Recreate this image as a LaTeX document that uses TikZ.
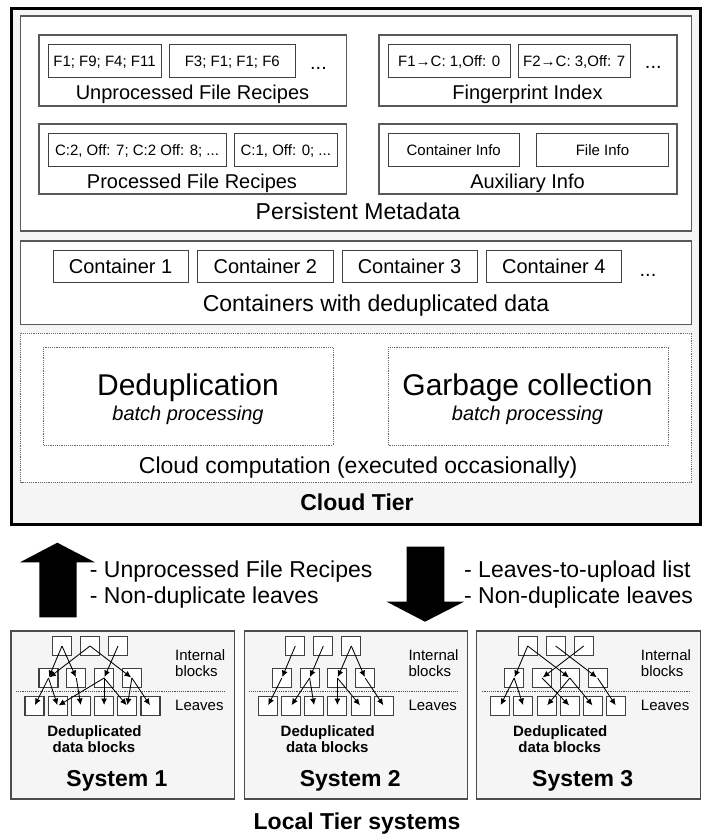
\documentclass[tikz,border=0pt]{standalone}
\usepackage{fontspec}
\setmainfont{Liberation Sans}
\usetikzlibrary{arrows.meta}

\tikzset{
  grpbox/.style={draw=black!65, fill=white, line width=0.45mm},
  itembox/.style={draw=black!75, fill=white, line width=0.35mm, inner sep=0pt, text height=10.7pt, text depth=0pt, font=\fontsize{15}{18}\selectfont},
  contbox/.style={draw=black!75, fill=white, line width=0.35mm, inner sep=0pt, minimum height=32.3pt, text height=14.3pt, text depth=0pt, font=\fontsize{20}{24}\selectfont},
  dotbox/.style={draw=black!60, densely dotted, line width=0.3mm, fill=white},
  sysbox/.style={draw=black!70, fill=black!4, line width=0.4mm},
  blk/.style={draw=black!75, fill=white, line width=0.4mm, minimum size=19pt, inner sep=0pt},
  ptr/.style={-{Latex[length=6.5pt,width=6pt]}, line width=0.3mm, shorten >=1pt},
  txtS/.style={inner sep=0pt, anchor=base, font=\fontsize{15}{18}\selectfont},
  txtM/.style={inner sep=0pt, anchor=base, font=\fontsize{20}{24}\selectfont},
  txtL/.style={inner sep=0pt, anchor=base, font=\fontsize{23}{27}\selectfont},
  txtXL/.style={inner sep=0pt, anchor=base, font=\fontsize{30}{36}\selectfont},
}

% one local system: left x, name prefix, number
\def\localsystem(#1)#2#3{%
  \draw[sysbox] (#1,631) rectangle (#1+223.5,799);
  \draw[black!70, densely dotted, line width=0.3mm] (#1+5,691.5) -- (#1+213,691.5);
  \node[blk] (#2t1) at (#1+51,646) {};
  \node[blk] (#2t2) at (#1+79,646) {};
  \node[blk] (#2t3) at (#1+107,646) {};
  \node[blk] (#2m1) at (#1+37.5,678) {};
  \node[blk] (#2m2) at (#1+65.3,678) {};
  \node[blk] (#2m3) at (#1+93.1,678) {};
  \node[blk] (#2m4) at (#1+120.9,678) {};
  \node[blk] (#2l1) at (#1+23.5,706) {};
  \node[blk] (#2l2) at (#1+46.7,706) {};
  \node[blk] (#2l3) at (#1+69.9,706) {};
  \node[blk] (#2l4) at (#1+93.1,706) {};
  \node[blk] (#2l5) at (#1+116.3,706) {};
  \node[blk] (#2l6) at (#1+139.5,706) {};
  \node[txtS, anchor=base west] (#2int) at (#1+164,660) {Internal};
  \node[txtS, anchor=base west] (#2blk) at (#1+164,676) {blocks};
  \node[txtS, anchor=base west] (#2lvs) at (#1+164,710.7) {Leaves};
  \node[txtS] (#2dd) at (#1+83.5,736.7) {\bfseries Deduplicated};
  \node[txtS] (#2db) at (#1+83,752.7) {\bfseries data blocks};
  \node[txtL] (#2name) at (#1+106,786.7) {\bfseries System #3};
}

\begin{document}
\begin{tikzpicture}[x=1pt, y=-1pt]
  %%%%% START %%%%%
  \useasboundingbox (0,0) rectangle (705,837);

  % cloud tier
  \draw[line width=1mm, fill=black!4] (11.7,8.3) rectangle (700.5,524.5);
  \node[txtL] (cloud) at (357,510) {\bfseries Cloud Tier};

  % persistent metadata
  \draw[grpbox] (20.5,16) rectangle (691.7,231);
  \draw[grpbox] (39,35) rectangle (346.7,106);
  \draw[grpbox] (379,35) rectangle (677,106);
  \draw[grpbox] (39,124) rectangle (346.7,194);
  \draw[grpbox] (379,124) rectangle (677,194);

  \node[itembox, minimum width=113pt, minimum height=33.4pt] (ur1) at (104.5,61) {F1; F9; F4; F11};
  \node[itembox, minimum width=126pt, minimum height=33.4pt] (ur2) at (232.3,61) {F3; F1; F1; F6};
  \node[txtM] (urdots) at (318.5,70) {...};
  \node[txtM] (urlbl) at (192.5,99.3) {Unprocessed File Recipes};

  \node[itembox, minimum width=121.7pt, minimum height=33.4pt] (fp1) at (449.2,61) {F1→C: 1,Off: 0};
  \node[itembox, minimum width=111.7pt, minimum height=33.4pt] (fp2) at (574.2,61) {F2→C: 3,Off: 7};
  \node[txtM] (fpdots) at (653.3,68.3) {...};
  \node[txtM] (fplbl) at (527.5,99.3) {Fingerprint Index};

  \node[itembox, minimum width=178pt, minimum height=32.7pt] (pr1) at (137,149.7) {C:2, Off: 7; C:2 Off: 8; ...};
  \node[itembox, minimum width=103pt, minimum height=32.7pt] (pr2) at (285.8,149.7) {C:1, Off: 0; ...};
  \node[txtM] (prlbl) at (192,188.3) {Processed File Recipes};

  \node[itembox, minimum width=130.7pt, minimum height=32.7pt] (ax1) at (453.7,149.7) {Container Info};
  \node[itembox, minimum width=131.6pt, minimum height=32.7pt] (ax2) at (602.5,149.7) {File Info};
  \node[txtM] (axlbl) at (527.5,188.3) {Auxiliary Info};

  \node[txtL] (pmlbl) at (358,219) {Persistent Metadata};

  % containers
  \draw[grpbox] (20.5,241) rectangle (691.7,324.3);
  \node[contbox, minimum width=135pt] (c1) at (120.6,266.2) {Container 1};
  \node[contbox, minimum width=135.4pt] (c2) at (265.3,266.2) {Container 2};
  \node[contbox, minimum width=135pt] (c3) at (409.5,266.2) {Container 3};
  \node[contbox, minimum width=135.5pt] (c4) at (553.8,266.2) {Container 4};
  \node[txtM] (cdots) at (648,276.7) {...};
  \node[txtL] (clbl) at (376,311.7) {Containers with deduplicated data};

  % cloud computation
  \draw[dotbox] (20.5,333.3) rectangle (691.7,482.3);
  \draw[dotbox] (43.7,347.3) rectangle (333,445.3);
  \draw[dotbox] (388.4,347.3) rectangle (668.8,445.3);
  \node[txtXL] (dedup) at (188,395) {Deduplication};
  \node[txtM] (dedupsub) at (188,420) {\itshape batch processing};
  \node[txtXL] (gc) at (527.5,395) {Garbage collection};
  \node[txtM] (gcsub) at (527.5,420) {\itshape batch processing};
  \node[txtL] (cclbl) at (358.2,473.3) {Cloud computation (executed occasionally)};

  % transfers between tiers
  \fill (39.3,617.3) -- (39.3,562.3) -- (20,562.3) -- (57.3,542.7) -- (95,562.3) -- (76.7,562.3) -- (76.7,617.3) -- cycle;
  \node[txtL, anchor=base west] (up1) at (89.7,577) {- Unprocessed File Recipes};
  \node[txtL, anchor=base west] (up2) at (89.7,603) {- Non-duplicate leaves};

  \fill (406.7,546.7) -- (444.3,546.7) -- (444.3,601.7) -- (464,601.7) -- (425,621.7) -- (386.7,601.7) -- (406.7,601.7) -- cycle;
  \node[txtL, anchor=base west] (dn1) at (464,577) {- Leaves-to-upload list};
  \node[txtL, anchor=base west] (dn2) at (464,603) {- Non-duplicate leaves};

  % local tier
  \localsystem(11){s1}{1}
  \localsystem(244.3){s2}{2}
  \localsystem(476.7){s3}{3}

  \draw[ptr] (s1t1.center) -- (s1m1.center);
  \draw[ptr] (s1t1.center) -- (s1m2.center);
  \draw[ptr] (s1t2.center) -- (s1m1.center);
  \draw[ptr] (s1t2.center) -- (s1m4.center);
  \draw[ptr] (s1t3.center) -- (s1m3.center);
  \draw[ptr] (s1m1.center) -- (s1l1.center);
  \draw[ptr] (s1m1.center) -- (s1l2.center);
  \draw[ptr] (s1m2.center) -- (s1l3.center);
  \draw[ptr] (s1m3.center) -- (s1l2.center);
  \draw[ptr] (s1m3.center) -- (s1l4.center);
  \draw[ptr] (s1m3.center) -- (s1l5.center);
  \draw[ptr] (s1m4.center) -- (s1l5.center);
  \draw[ptr] (s1m4.center) -- (s1l6.center);

  \draw[ptr] (s2t1.center) -- (s2m1.center);
  \draw[ptr] (s2t2.center) -- (s2m2.center);
  \draw[ptr] (s2t3.center) -- (s2m3.center);
  \draw[ptr] (s2t3.center) -- (s2m4.center);
  \draw[ptr] (s2m1.center) -- (s2l1.center);
  \draw[ptr] (s2m2.center) -- (s2l2.center);
  \draw[ptr] (s2m2.center) -- (s2l3.center);
  \draw[ptr] (s2m3.center) -- (s2l4.center);
  \draw[ptr] (s2m3.center) -- (s2l5.center);
  \draw[ptr] (s2m4.center) -- (s2l6.center);

  \draw[ptr] (s3t1.center) -- (s3m1.center);
  \draw[ptr] (s3t1.center) -- (s3m3.center);
  \draw[ptr] (s3t2.center) -- (s3m4.center);
  \draw[ptr] (s3t3.center) -- (s3m2.center);
  \draw[ptr] (s3m1.center) -- (s3l1.center);
  \draw[ptr] (s3m1.center) -- (s3l2.center);
  \draw[ptr] (s3m2.center) -- (s3l4.center);
  \draw[ptr] (s3m3.center) -- (s3l3.center);
  \draw[ptr] (s3m3.center) -- (s3l5.center);
  \draw[ptr] (s3m4.center) -- (s3l6.center);

  \node[txtL] (local) at (357,829) {\bfseries Local Tier systems};
  %%%%% END %%%%%
\end{tikzpicture}
\end{document}
